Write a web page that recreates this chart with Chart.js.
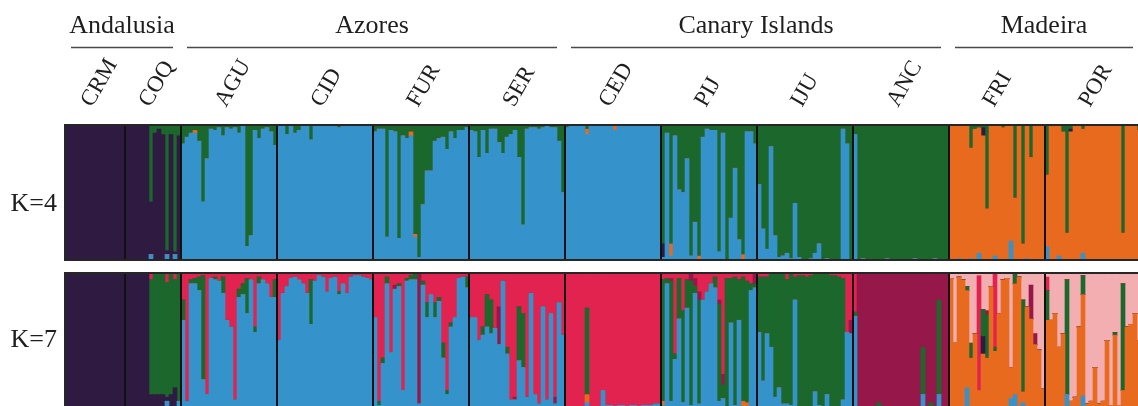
<!DOCTYPE html>
<html>
<head>
<meta charset="utf-8">
<script src="https://cdn.jsdelivr.net/npm/chart.js@4.4.1/dist/chart.umd.min.js"></script>
<style>
  html, body { margin: 0; padding: 0; background: #fff; overflow: hidden; }
  #wrap { position: relative; width: 1150px; height: 416px; }
  canvas { position: absolute; left: 0; }
  #k4 { top: 0; }
  #k7 { top: 266px; }
</style>
</head>
<body>
<div id="wrap">
  <canvas id="k4" width="1150" height="266"></canvas>
  <canvas id="k7" width="1150" height="150"></canvas>
</div>
<script>
// populations (left to right) and regions
const populations = ['CRM', 'COQ', 'AGU', 'CID', 'FUR', 'SER', 'CED', 'PIJ', 'IJU', 'ANC', 'FRI', 'POR'];
const groupNames = ['Andalusia', 'Azores', 'Canary Islands', 'Madeira'];
const groupFirstPop = [0, 2, 6, 10];
const groupLastPop = [1, 5, 9, 11];

// cluster keys, stacked bottom -> top
// b blue, o orange, p dark purple, g green, m magenta, r red, k pink
const clusterColors = {
    b: '#3592cb', o: '#e86a1f', p: '#2f1b41', g: '#1b672c',
    m: '#96184a', r: '#e2234f', k: '#f3aeb1'
};
const k4Keys = ['b', 'o', 'p', 'g'];
const k7Keys = ['b', 'o', 'p', 'g', 'm', 'r', 'k'];

// ---- K=4 memberships (%), one object per individual ----
const k4CRM = [{p:100},{p:100},{p:100},{p:100},{p:100},{p:100},{p:100},{p:100},{p:100},{p:100},{p:100},{p:100},{p:100},{p:100},{p:100}];
const k4COQ = [{p:100},{p:100},{p:100},{p:100},{p:100},{p:100},{b:4,p:39,g:57},{p:94,g:6},{p:97,g:3},{p:93,g:7},{b:4,p:3,g:93},{p:93,g:7},{b:4,p:2,g:94},{p:92,g:8}];
const k4AGU = [{b:86,g:14},{b:91,g:9},{b:94,g:6},{b:94,o:2,g:4},{b:88,g:12},{b:43,g:57},{b:75,g:25},{b:97,g:3},{b:96,g:4},{b:98,g:2},{b:92,g:8},{b:98,g:2},{b:97,g:3},{b:98,g:2},{b:94,g:6},{b:99,g:1},{b:10,g:90},{b:18,g:82},{b:96,g:4},{b:90,g:10},{b:97,g:3},{b:98,g:2},{b:95,g:5},{b:85,g:15}];
const k4CID = [{b:99,g:1},{b:99,g:1},{b:93,g:7},{b:99,g:1},{b:94,g:6},{b:96,g:4},{b:99,g:1},{b:100},{b:89,g:11},{b:99,g:1},{b:100},{b:99,g:1},{b:100},{b:99,g:1},{b:100},{b:98,g:2},{b:99,g:1},{b:100},{b:99,g:1},{b:99,g:1},{b:100},{b:99,g:1},{b:99,g:1},{b:99,g:1}];
const k4FUR = [{b:95,g:5},{b:97,g:3},{b:97,g:3},{b:17,g:83},{b:96,g:4},{b:95,g:5},{b:16,g:84},{b:92,g:8},{b:90,g:10},{b:92,o:3,g:5},{b:17,o:2,g:81},{b:2,g:98},{b:41,g:59},{b:66,g:34},{b:66,g:34},{b:88,g:12},{b:90,g:10},{b:91,g:9},{b:82,g:18},{b:95,g:5},{b:90,g:10},{b:96,g:4},{b:96,g:4},{b:98,g:2}];
const k4SER = [{b:96,g:4},{b:95,g:5},{b:76,g:24},{b:96,g:4},{b:79,g:21},{b:97,g:3},{b:97,g:3},{b:87,g:13},{b:79,g:21},{b:91,g:9},{b:93,g:7},{b:96,g:4},{b:76,g:24},{b:26,g:74},{b:97,g:3},{b:98,g:2},{b:98,g:2},{b:97,g:3},{b:98,g:2},{b:99,g:1},{b:98,g:2},{b:98,g:2},{b:88,g:12},{b:50,g:50}];
const k4CED = [{b:98,g:2},{b:99,g:1},{b:99,g:1},{b:100},{b:99,g:1},{b:93,o:4,g:3},{b:99,g:1},{b:100},{b:99,g:1},{b:99,g:1},{b:100},{b:99,g:1},{b:96,o:4},{b:99,g:1},{b:99,g:1},{b:100},{b:99,g:1},{b:100},{b:99,g:1},{b:100},{b:100},{b:99,g:1},{b:100},{b:99,g:1}];
const k4PIJ = [{b:2,p:10,g:88},{b:94,g:6},{b:3,o:9,g:88},{b:92,g:8},{b:52,g:48},{b:50,g:50},{b:75,g:25},{b:3,g:97},{b:28,g:72},{o:3,g:97},{b:91,g:9},{b:97,g:3},{b:96,g:4},{b:96,g:4},{b:6,g:94},{b:94,g:6},{g:100},{b:31,g:69},{b:68,g:32},{b:15,g:85},{o:4,g:96},{b:95,g:5},{b:95,g:5},{b:86,g:14}];
const k4IJU = [{b:56,g:44},{b:23,g:77},{b:8,g:92},{b:84,g:16},{b:18,g:82},{b:2,g:98},{b:3,g:97},{b:5,g:95},{b:1,g:99},{b:42,g:58},{b:2,g:98},{g:100},{g:100},{b:1,g:99},{b:5,g:95},{b:12,g:88},{g:100},{b:1,g:99},{g:100},{g:100},{g:100},{b:97,g:3},{b:86,g:14},{g:100}];
const k4ANC = [{b:93,g:7},{g:100},{b:1,g:99},{g:100},{g:100},{g:100},{g:100},{g:100},{b:1,g:99},{g:100},{g:100},{g:100},{g:100},{g:100},{g:100},{b:1,g:99},{g:100},{g:100},{g:100},{g:100},{b:1,g:99},{g:100},{g:100},{g:100}];
const k4FRI = [{o:100},{o:100},{b:1,o:99},{o:99,g:1},{o:100},{b:1,o:82,g:17},{o:97,g:3},{b:5,o:93,g:2},{o:92,p:6,g:2},{o:38,g:62},{o:100},{b:3,o:97},{o:100},{o:98,g:2},{o:99,g:1},{b:14,o:86},{o:46,g:54},{o:100},{o:12,g:88},{b:1,o:99},{o:76,g:24},{o:100},{o:100},{o:100}];
const k4POR = [{b:10,o:53,g:37},{o:100},{o:100},{b:3,o:97},{o:95,g:5},{o:20,g:80},{o:95,p:2,g:3},{o:100},{o:99,g:1},{b:5,o:92,g:3},{o:100},{o:100},{o:100},{o:100},{o:100},{o:100},{o:100},{o:100},{o:100},{o:20,g:80},{o:100},{o:100},{o:100},{o:96,g:4}];

// ---- K=7 memberships (%) ----
const k7CRM = [{p:100},{p:100},{p:100},{p:100},{p:100},{p:100},{p:100},{p:100},{p:100},{p:100},{p:100},{p:100},{p:100},{p:100},{p:100}];
const k7COQ = [{p:100},{p:100},{p:100},{p:100},{p:100},{p:100},{p:10,g:85,r:5},{p:10,g:90},{p:10,g:90},{p:10,g:90},{b:5,p:3,g:85,r:7},{p:10,g:90},{p:15,g:80,r:5},{b:5,g:95}];
const k7AGU = [{b:65,g:15,r:20},{b:5,r:95},{b:92,g:3,r:5},{b:92,g:4,r:4},{b:87,g:10,r:3},{b:21,g:77,r:2},{b:10,r:90},{b:96,r:4},{b:95,g:2,r:3},{b:94,r:6},{b:85,g:12,r:3},{b:65,r:35},{b:60,r:40},{b:6,r:94},{b:82,g:6,r:12},{b:84,g:8,r:8},{b:70,g:26,r:4},{b:95,r:5},{b:56,g:4,r:40},{b:92,g:5,r:3},{b:95,r:5},{b:92,r:8},{b:82,r:18},{b:82,g:13,r:5}];
const k7CID = [{b:50,r:50},{b:85,r:15},{b:90,r:10},{b:96,r:4},{b:97,r:3},{b:95,r:5},{b:92,r:8},{b:85,r:15},{b:62,g:33,r:5},{b:94,r:6},{b:98,r:2},{b:97,r:3},{b:86,r:14},{b:96,r:4},{b:97,r:3},{b:84,g:2,r:14},{b:92,r:8},{b:85,r:15},{b:97,r:3},{b:98,r:2},{b:98,r:2},{b:97,r:3},{b:96,r:4},{b:95,r:5}];
const k7FUR = [{b:67,r:33},{b:2,g:3,r:95},{b:33,g:4,r:63},{b:92,g:5,r:3},{b:41,r:59},{b:88,m:3,r:9},{b:90,g:2,r:8},{b:13,r:87},{b:94,g:2,r:4},{b:95,g:3,r:2},{b:95,g:5},{b:3,m:97},{b:91,g:3,r:6},{b:67,g:11,r:22},{b:84,r:16},{b:67,g:11,r:22},{b:79,g:3,r:18},{b:37,g:11,r:52},{b:10,g:3,r:87},{b:60,g:3,r:37},{b:67,r:33},{b:96,r:4},{b:97,r:3},{b:89,g:8,r:3}];
const k7SER = [{b:67,r:33},{b:67,r:33},{b:50,r:50},{b:54,g:6,r:40},{b:60,g:24,r:16},{b:55,g:25,r:20},{b:59,r:41},{b:47,m:28,r:25},{b:94,r:6},{b:40,g:5,r:55},{b:6,r:94},{b:6,m:2,r:92},{b:35,g:40,r:25},{b:30,g:40,r:30},{b:8,r:92},{b:85,r:15},{b:10,r:90},{b:3,r:97},{b:75,r:25},{b:6,r:94},{b:70,r:30},{b:3,m:5,r:92},{b:78,r:22},{b:54,r:46}];
const k7CED = [{r:100},{b:1,r:99},{r:100},{r:100},{b:1,r:99},{b:4,o:6,g:64,r:26},{r:100},{r:100},{b:1,r:99},{b:13,r:87},{b:2,r:98},{b:2,r:98},{b:1,r:99},{b:2,r:98},{b:2,r:98},{b:1,r:99},{b:2,r:98},{b:2,r:98},{b:1,r:99},{b:2,r:98},{b:2,r:98},{b:2,r:98},{b:3,r:97},{b:3,r:97}];
const k7PIJ = [{b:2,o:3,g:90,r:5},{b:92,g:4,r:4},{b:5,g:89,m:2,r:4},{b:36,g:4,r:60},{b:66,g:30,r:4},{b:4,g:68,r:28},{b:74,g:21,r:5},{b:2,g:92,m:6},{b:85,g:5,m:6,r:4},{b:3,g:77,m:6,r:14},{b:80,r:20},{b:86,r:14},{b:92,r:8},{b:89,g:8,r:3},{b:5,g:72,m:3,r:20},{b:7,g:10,m:8,r:75},{g:96,r:4},{b:63,g:33,r:4},{b:2,g:95,r:3},{b:65,g:30,r:5},{o:5,g:92,r:3},{o:4,g:90,r:6},{b:87,g:5,r:8},{b:89,g:3,m:8}];
const k7IJU = [{b:56,g:41,r:3},{b:20,g:77,r:3},{b:55,g:42,r:3},{b:45,g:55},{b:8,g:92},{b:15,g:85},{b:3,g:97},{b:3,g:92,r:5},{b:2,g:98},{b:80,g:17,r:3},{g:98,r:2},{g:98,r:2},{g:97,r:3},{g:98,r:2},{b:12,g:88},{b:2,g:98},{g:100},{b:10,g:90},{g:98,r:2},{g:98,r:2},{g:97,r:3},{b:6,g:90,r:4},{b:56,r:44},{b:55,m:10,r:35}];
const k7ANC = [{b:68,g:3,r:29},{m:100},{m:100},{m:100},{m:100},{m:100},{g:4,m:96},{m:100},{m:100},{m:100},{m:100},{m:100},{m:100},{m:100},{m:100},{m:100},{m:100},{b:10,g:35,m:55},{m:100},{g:4,m:96},{m:100},{b:10,g:70,m:20},{m:100},{m:100}];
const k7FRI = [{o:96,k:4},{o:48,k:52},{o:97,k:3},{o:95,k:5},{b:15,o:72,g:3,k:10},{o:37,g:11,k:52},{o:55,k:45},{o:13,r:85,k:2},{o:40,p:13,g:20,k:27},{o:37,g:32,m:3,k:28},{o:90,k:10},{o:42,g:3,r:55},{o:70,k:30},{o:95,k:5},{o:96,k:4},{b:7,o:23,k:70},{b:10,o:82,g:8},{o:97,k:3},{b:4,o:8,g:68,k:20},{o:75,k:25},{o:66,m:25,k:9},{o:47,m:8,k:45},{o:43,k:57},{o:14,k:86}];
const k7POR = [{o:65,g:22,r:10,k:3},{o:65,k:35},{o:70,k:30},{o:45,k:55},{o:55,k:45},{b:10,g:85,k:5},{o:5,k:95},{o:8,k:92},{o:60,k:40},{b:9,o:75,g:14,k:2},{o:3,k:97},{o:5,k:95},{o:30,k:70},{o:3,k:97},{o:5,k:95},{o:50,k:50},{o:2,k:98},{o:54,g:2,k:44},{o:2,k:98},{o:13,g:79,k:8},{o:60,k:40},{o:62,k:38},{o:70,k:30},{o:50,k:50}];

const k4Pops = [k4CRM, k4COQ, k4AGU, k4CID, k4FUR, k4SER, k4CED, k4PIJ, k4IJU, k4ANC, k4FRI, k4POR];
const k7Pops = [k7CRM, k7COQ, k7AGU, k7CID, k7FUR, k7SER, k7CED, k7PIJ, k7IJU, k7ANC, k7FRI, k7POR];

// first individual index of every population
const popStarts = [];
let n = 0;
k4Pops.forEach(pop => { popStarts.push(n); n += pop.length; });
const popEnds = popStarts.map((s, i) => s + k4Pops[i].length - 1);

const serif = '"Liberation Serif", "Times New Roman", serif';

function buildData(pops, keys) {
    const labels = [];
    pops.forEach((pop, i) => pop.forEach((_, j) => labels.push(populations[i] + ' ' + (j + 1))));
    const all = pops.flat();
    const datasets = keys.map(k => ({
        label: k,
        data: all.map(ind => ind[k] || 0),
        backgroundColor: clusterColors[k],
        borderWidth: 0,
        barPercentage: 1,
        categoryPercentage: 1,
        stack: 'q'
    }));
    return { labels, datasets };
}

// frame, population separators and K label
const framePlugin = {
    id: 'frame',
    afterDatasetsDraw(chart, args, opts) {
        const { ctx, chartArea: a, scales: { x } } = chart;
        ctx.save();
        ctx.strokeStyle = '#111';
        ctx.lineWidth = 2;
        popStarts.slice(1).forEach(s => {
            const px = Math.round((x.getPixelForValue(s - 1) + x.getPixelForValue(s)) / 2);
            ctx.beginPath();
            ctx.moveTo(px, a.top);
            ctx.lineTo(px, a.bottom);
            ctx.stroke();
        });
        ctx.strokeStyle = '#262626';
        ctx.strokeRect(a.left, a.top, a.right - a.left, a.bottom - a.top);
        ctx.fillStyle = '#1e1e1e';
        ctx.font = '26px ' + serif;
        ctx.textAlign = 'right';
        ctx.textBaseline = 'alphabetic';
        ctx.fillText(opts.label, 57, opts.baseline);
        ctx.restore();
    }
};

// region names, lines and rotated population codes above the first panel
const headerPlugin = {
    id: 'header',
    afterDraw(chart) {
        const { ctx, scales: { x } } = chart;
        const half = (x.getPixelForValue(1) - x.getPixelForValue(0)) / 2;
        const popLeft = p => x.getPixelForValue(popStarts[p]) - half;
        const popRight = p => x.getPixelForValue(popEnds[p]) + half;
        ctx.save();
        ctx.fillStyle = '#1e1e1e';
        ctx.strokeStyle = '#4a4a4a';
        ctx.lineWidth = 1.6;
        ctx.font = '26px ' + serif;
        ctx.textAlign = 'center';
        ctx.textBaseline = 'alphabetic';
        groupNames.forEach((name, g) => {
            const l = popLeft(groupFirstPop[g]) + 6;
            const r = Math.min(popRight(groupLastPop[g]), 1142) - 8;
            ctx.fillText(name, (l + r) / 2, 33);
            ctx.beginPath();
            ctx.moveTo(l, 47.5);
            ctx.lineTo(r, 47.5);
            ctx.stroke();
        });
        ctx.font = '23px ' + serif;
        ctx.textAlign = 'left';
        populations.forEach((code, p) => {
            const cx = (popLeft(p) + popRight(p)) / 2;
            ctx.save();
            ctx.translate(cx - 3, 108);
            ctx.rotate(-60 * Math.PI / 180);
            ctx.fillText(code, 0, 0);
            ctx.restore();
        });
        ctx.restore();
    }
};

function makeChart(id, pops, keys, padding, frameOpts, plugins) {
    return new Chart(document.getElementById(id), {
        type: 'bar',
        data: buildData(pops, keys),
        options: {
            responsive: false,
            animation: false,
            layout: { padding: padding },
            scales: {
                x: { stacked: true, display: false },
                y: { stacked: true, display: false, min: 0, max: 100 }
            },
            plugins: {
                legend: { display: false },
                tooltip: { enabled: false },
                frame: frameOpts
            }
        },
        plugins: plugins
    });
}

makeChart('k4', k4Pops, k4Keys, { left: 65, top: 125, right: 9, bottom: 6 },
    { label: 'K=4', baseline: 211 }, [framePlugin, headerPlugin]);
makeChart('k7', k7Pops, k7Keys, { left: 65, top: 7, right: 9, bottom: 8 },
    { label: 'K=7', baseline: 81 }, [framePlugin]);
</script>
</body>
</html>
